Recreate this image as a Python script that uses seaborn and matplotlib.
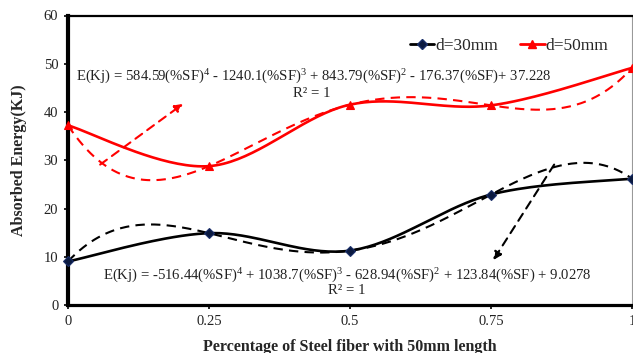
import numpy as np
import pandas as pd
import matplotlib
matplotlib.use("Agg")
import matplotlib.pyplot as plt
from matplotlib.lines import Line2D
import seaborn as sns

# ---- data ----
fiber_pct = [0.0, 0.25, 0.5, 0.75, 1.0]
energy_d30 = [9.03, 14.89, 11.27, 22.90, 26.19]
energy_d50 = [37.23, 28.78, 41.52, 41.37, 49.14]
x_ticks = [0, 0.25, 0.5, 0.75, 1]
x_tick_labels = ["0", "0.25", "0.5", "0.75", "1"]
y_ticks = [0, 10, 20, 30, 40, 50, 60]
series_names = ["d=30mm", "d=50mm"]
eq_d50 = "E(Kj) = 584.59(%SF)$^{4}$ - 1240.1(%SF)$^{3}$ + 843.79(%SF)$^{2}$ - 176.37(%SF)+ 37.228"
eq_d30 = "E(Kj) = -516.44(%SF)$^{4}$ + 1038.7(%SF)$^{3}$ - 628.94(%SF)$^{2}$ + 123.84(%SF) + 9.0278"
r2_text = "R² = 1"


def excel_smooth(x, y, n=40):
    P = np.column_stack([x, y]).astype(float)
    P = np.vstack([P[0], P, P[-1]])
    out = []
    t = np.linspace(0, 1, n)[:, None]
    for i in range(1, len(P) - 2):
        p0, p1, p2, p3 = P[i - 1], P[i], P[i + 1], P[i + 2]
        c1 = p1 + (p2 - p0) / 6.0
        c2 = p2 - (p3 - p1) / 6.0
        seg = ((1 - t) ** 3) * p1 + 3 * ((1 - t) ** 2) * t * c1 + 3 * (1 - t) * t ** 2 * c2 + t ** 3 * p2
        out.append(seg if i == 1 else seg[1:])
    arr = np.vstack(out)
    return arr[:, 0], arr[:, 1]


sns.set_theme(style="white")
plt.rcParams["font.family"] = ["Liberation Serif", "DejaVu Serif"]
plt.rcParams["mathtext.fontset"] = "custom"
plt.rcParams["mathtext.rm"] = "Liberation Serif"
plt.rcParams["mathtext.it"] = "Liberation Serif:italic"
plt.rcParams["mathtext.bf"] = "Liberation Serif:bold"

W, H = 633, 353
fig = plt.figure(figsize=(W / 100, H / 100), dpi=100)
ax = fig.add_axes([68 / W, 1 - 305 / H, (632 - 68) / W, (305 - 15.5) / H])

xf = np.linspace(0, 1, 300)
colors = ["black", "#ff0000"]
markers = ["D", "^"]
mfc = ["#0b1a40", "#ff0000"]
for ys, c, m, fc in zip([energy_d30, energy_d50], colors, markers, mfc):
    coef = np.polyfit(fiber_pct, ys, 4)
    trend = pd.DataFrame({"x": xf, "y": np.polyval(coef, xf)})
    sns.lineplot(data=trend, x="x", y="y", ax=ax, color=c, lw=1.5,
                 linestyle=(0, (4.5, 3)), sort=False)
    sx, sy = excel_smooth(fiber_pct, ys)
    sm = pd.DataFrame({"x": sx, "y": sy})
    sns.lineplot(data=sm, x="x", y="y", ax=ax, color=c, lw=1.9, sort=False)
    ax.plot(fiber_pct, ys, linestyle="none", marker=m, ms=6.2 if m == "^" else 5.5,
            mfc=fc, mec=("#1a2f6a" if m == "D" else c), mew=0.8, clip_on=False, zorder=5)

ax.set_xlim(0, 1)
ax.set_ylim(0, 60)
ax.set_xticks(x_ticks)
ax.set_xticklabels(x_tick_labels)
ax.set_yticks(y_ticks)
ax.tick_params(axis="both", labelsize=10.5, colors="black", length=3, width=1.2,
               direction="out", bottom=True, left=True, pad=4)
for lab in ax.get_xticklabels() + ax.get_yticklabels():
    lab.set_color("#222222")

ax.spines["left"].set_linewidth(3.0)
ax.spines["bottom"].set_linewidth(2.3)
ax.spines["top"].set_linewidth(1.6)
ax.spines["right"].set_linewidth(0.8)
ax.spines["right"].set_color("#999999")
for s in ["left", "bottom", "top"]:
    ax.spines[s].set_color("black")

ax.set_xlabel("Percentage of Steel fiber with 50mm length", fontsize=11.5,
              fontweight="bold", labelpad=8)
ax.set_ylabel("Absorbed Energy(KJ)", fontsize=11.5, fontweight="bold", labelpad=12)

# equations
ax.text(0.435, 47.2, eq_d50, fontsize=10.6, ha="center", va="center", color="#222222")
ax.text(0.433, 43.8, r2_text, fontsize=10.6, ha="center", va="center", color="#222222")
ax.text(0.495, 6.0, eq_d30, fontsize=10.6, ha="center", va="center", color="#222222")
ax.text(0.495, 3.0, r2_text, fontsize=10.6, ha="center", va="center", color="#222222")

# arrows
ax.annotate("", xy=(0.204, 41.7), xytext=(0.057, 29.1),
            arrowprops=dict(arrowstyle="-|>", color="#ff0000", lw=1.5,
                            linestyle=(0, (4, 3)), mutation_scale=12, shrinkA=0, shrinkB=0))
ax.annotate("", xy=(0.754, 9.3), xytext=(0.862, 29.1),
            arrowprops=dict(arrowstyle="-|>", color="black", lw=1.5,
                            linestyle=(0, (4, 3)), mutation_scale=12, shrinkA=0, shrinkB=0))

handles = [
    Line2D([], [], color="black", lw=2, marker="D", ms=5.5, mfc="#0b1a40", mec="#1a2f6a"),
    Line2D([], [], color="#ff0000", lw=2, marker="^", ms=6.2, mfc="#ff0000", mec="#ff0000"),
]
ax.legend(handles, series_names, loc="center", bbox_to_anchor=(0.782, 0.895),
          ncol=2, frameon=False, fontsize=12.5, handlelength=1.4, handletextpad=0.05,
          columnspacing=1.3, borderaxespad=0)

fig.savefig("out.png", dpi=100)
